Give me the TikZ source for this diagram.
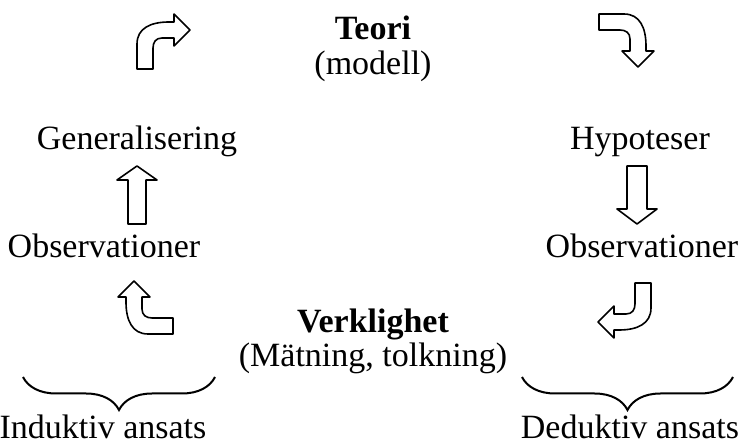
\documentclass[tikz,border=0pt]{standalone}
\usepackage{fontspec}
\setmainfont{Liberation Serif}
\usetikzlibrary{decorations.pathreplacing}

\begin{document}
\begin{tikzpicture}[x=1pt, y=-1pt,
  lbl/.style={font=\fontsize{34}{40}\selectfont, anchor=base, inner sep=0pt},
  ttl/.style={lbl, font=\fontsize{34}{40}\selectfont\bfseries},
  blk/.style={draw, line width=1.6pt, line join=round, fill=white},
  brc/.style={decorate, decoration={brace, mirror, amplitude=33pt}, line width=2pt}
]
\useasboundingbox (0,0) rectangle (740,446);
\tikzset{bend arrow/.pic={
  \path[blk] (-8,39) -- (-8,14) .. controls (-8,-2) and (6,-8) .. (24,-8) -- (29,-8) -- (29,-16)
    -- (45,0) -- (29,16) -- (29,8) -- (17,8) .. controls (11,8) and (8,12) .. (8,18) -- (8,39) -- cycle;
}}
% texts
\node[ttl] (teori) at (373,40) {Teori};
\node[lbl] (modell) at (373,75) {(modell)};
\node[lbl] (gen) at (137,150) {Generalisering};
\node[lbl] (hyp) at (640,150) {Hypoteser};
\node[lbl] (obsL) at (104,258) {Observationer};
\node[lbl] (obsR) at (642,258) {Observationer};
\node[ttl] (verk) at (373,333) {Verklighet};
\node[lbl] (matn) at (373,367) {(Mätning, tolkning)};
\node[lbl] (ind) at (103,439) {Induktiv ansats};
\node[lbl] (ded) at (630,439) {Deduktiv ansats};
% curved arrows
\pic at (145,30) {bend arrow};
\pic[rotate=-90] at (638,22) {bend arrow};
\pic[rotate=180] at (643,322) {bend arrow};
\pic[rotate=90] at (134,326) {bend arrow};
% straight arrows
\path[blk] (128,224) -- (128,180) -- (117,180) -- (137,166) -- (157,180) -- (146,180) -- (146,224) -- cycle;
\path[blk] (627,166) -- (627,209) -- (617,209) -- (637,224) -- (657,209) -- (647,209) -- (647,166) -- cycle;
% braces
\coordinate (bLa) at (23,377);
\coordinate (bLb) at (215,377);
\coordinate (bRa) at (522,377);
\coordinate (bRb) at (733,377);
\draw[brc] (bLa) -- (bLb);
\draw[brc] (bRa) -- (bRb);
\end{tikzpicture}
\end{document}
